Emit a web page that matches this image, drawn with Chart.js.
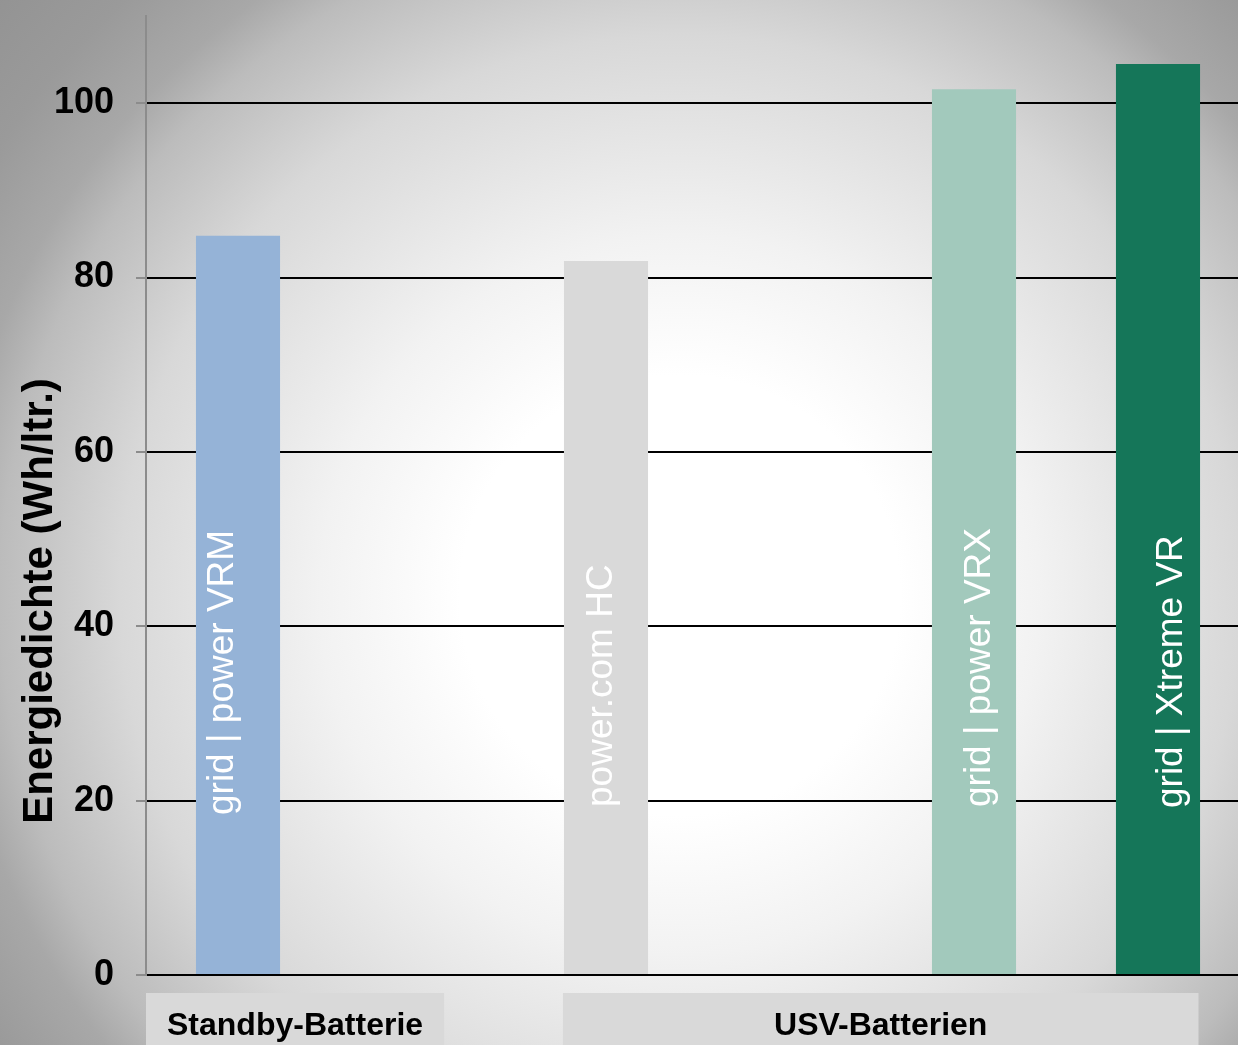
<!DOCTYPE html>
<html>
<head>
<meta charset="utf-8">
<script src="https://cdn.jsdelivr.net/npm/chart.js@4.4.1/dist/chart.umd.min.js"></script>
<style>
  html, body {
    margin: 0;
    width: 1238px;
    height: 1045px;
    overflow: hidden;
  }
  body {
    background: radial-gradient(circle at 680px 595px,
      #ffffff 0px, #ffffff 220px, #f2f2f2 360px, #d8d8d8 560px,
      #bcbcbc 680px, #a8a8a8 730px, #9a9a9a 815px, #939393 910px);
  }
  #wrap {
    position: relative;
    width: 1250px;
    height: 1045px;
  }
</style>
</head>
<body>
<div id="wrap">
  <canvas id="grafico" width="1250" height="1045"></canvas>
</div>
<script>
const categorias = ["grid | power VRM", "", "power.com HC", "", "grid | power VRX", "grid | Xtreme VR"];
const valores = [84.8, null, 81.9, null, 101.6, 104.5];
const ticksY = [0, 20, 40, 60, 80, 100];
const grupos = ["Standby-Batterie", "USV-Batterien"];
const tituloY = "Energiedichte (Wh/ltr.)";

// cores de cada barra (slots vazios ficam sem cor)
const cores = ["#95b3d7", null, "#d9d9d9", null, "#a2c9bc", "#157659"];

const fonte = "'Liberation Sans', Arial, sans-serif";

// deslocamento horizontal e inicio vertical do texto de cada barra
const textoDx = [-5, null, 6, null, 16, 24];
const textoY = [815, null, 807, null, 807, 808];

// texto dentro das barras, titulo do eixo e caixas dos grupos
const extras = {
  id: "extras",
  afterDatasetsDraw(chart) {
    const c = chart.ctx;
    const meta = chart.getDatasetMeta(0);
    c.save();
    c.fillStyle = "#ffffff";
    c.font = "37px " + fonte;
    c.textAlign = "left";
    c.textBaseline = "alphabetic";
    meta.data.forEach((barra, i) => {
      if (valores[i] == null) return;
      c.save();
      c.translate(barra.x + textoDx[i], textoY[i]);
      c.rotate(-Math.PI / 2);
      c.fillText(categorias[i], 0, 0);
      c.restore();
    });
    c.restore();
  },
  afterDraw(chart) {
    const c = chart.ctx;
    const x = chart.scales.x;
    const area = chart.chartArea;
    c.save();

    // titulo do eixo y
    c.fillStyle = "#000";
    c.font = "bold 42px " + fonte;
    c.textAlign = "center";
    c.textBaseline = "alphabetic";
    c.translate(52, 601);
    c.rotate(-Math.PI / 2);
    c.fillText(tituloY, 0, 0);
    c.setTransform(1, 0, 0, 1, 0, 0);

    // caixas dos grupos embaixo do eixo
    const faixas = [[-0.5, 1.12], [1.766, 5.22]];
    c.font = "bold 32px " + fonte;
    faixas.forEach((f, i) => {
      const x0 = x.getPixelForValue(f[0]);
      const x1 = x.getPixelForValue(f[1]);
      c.fillStyle = "#d9d9d9";
      c.fillRect(x0, area.bottom + 18, x1 - x0, 80);
      c.fillStyle = "#000";
      c.fillText(grupos[i], (x0 + x1) / 2, area.bottom + 60);
    });
    c.restore();
  },
};

new Chart(document.getElementById("grafico"), {
  type: "bar",
  data: {
    labels: categorias,
    datasets: [
      {
        data: valores,
        backgroundColor: cores,
        borderWidth: 0,
        categoryPercentage: 1,
        barPercentage: 0.457,
      },
    ],
  },
  options: {
    responsive: false,
    animation: false,
    layout: {
      padding: { top: 16, bottom: 70, left: 0, right: 0 },
    },
    plugins: {
      legend: { display: false },
      tooltip: { enabled: false },
    },
    scales: {
      x: {
        display: false,
      },
      y: {
        min: 0,
        max: 110,
        afterBuildTicks(scale) {
          scale.ticks = ticksY.map((v) => ({ value: v }));
        },
        afterFit(scale) {
          scale.width = 146;
          scale.paddingTop = 0;
          scale.paddingBottom = 0;
        },
        grid: {
          color: "#000",
          lineWidth: 2,
          tickColor: "#8c8c8c",
          tickLength: 10,
        },
        border: {
          color: "#8c8c8c",
          width: 2,
        },
        ticks: {
          color: "#000",
          padding: 22,
          font: { family: fonte, size: 36, weight: "bold" },
        },
      },
    },
  },
  plugins: [extras],
});
</script>
</body>
</html>
